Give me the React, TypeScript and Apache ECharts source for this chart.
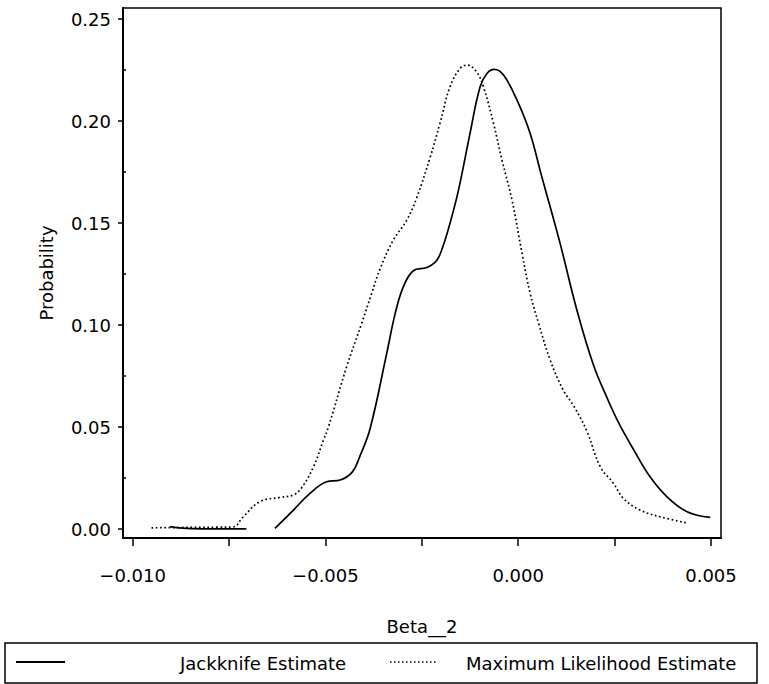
import React, { useEffect, useRef } from "react";
import * as echarts from "echarts";

// Jackknife estimate: left tail segment, then main curve (break between them)
const jackTailX = [-0.00903, -0.0086, -0.008, -0.0075, -0.00705];
const jackTailY = [0.0012, 0.0003, 0.0001, 0.0001, 0.0001];
const jackX = [
  -0.00631, -0.00583, -0.0054, -0.00497, -0.00462, -0.0043, -0.0041, -0.00384,
  -0.00341, -0.00319, -0.00298, -0.00272, -0.00237, -0.00211, -0.00194, -0.00177,
  -0.00155, -0.00125, -0.00099, -0.00081, -0.00062, -0.00038, -0.00003, 0.00031,
  0.0006, 0.00108, 0.00152, 0.00195, 0.0023, 0.00262, 0.003, 0.00342, 0.00386,
  0.00438, 0.00498,
];
const jackY = [
  0.0003, 0.0093, 0.0175, 0.0232, 0.024, 0.028, 0.036, 0.0493,
  0.0861, 0.1057, 0.1187, 0.1266, 0.1282, 0.1318, 0.1392, 0.1498,
  0.166, 0.1939, 0.2167, 0.2233, 0.2253, 0.2225, 0.2102, 0.1939,
  0.1735, 0.1405, 0.1075, 0.0805, 0.0645, 0.0515, 0.0387, 0.0256, 0.0158,
  0.0085, 0.0057,
];

// Maximum likelihood estimate
const mlX = [
  -0.00951, -0.0085, -0.0078, -0.0074, -0.00713, -0.0067, -0.00618, -0.00583,
  -0.00561, -0.00531, -0.00505, -0.00492, -0.00445, -0.00406, -0.0038, -0.00358,
  -0.00324, -0.00289, -0.00263, -0.00228, -0.00203, -0.00177, -0.00151, -0.00132,
  -0.00108, -0.0009, -0.00064, -0.00042, -0.00016, 0.0001, 0.00031, 0.00053,
  0.00083, 0.00117, 0.00145, 0.00178, 0.00213, 0.00247, 0.00273, 0.00316,
  0.00368, 0.00442,
];
const mlY = [
  0.0006, 0.0008, 0.0009, 0.001, 0.006, 0.0134, 0.0155, 0.0167,
  0.0204, 0.0305, 0.0436, 0.0501, 0.0795, 0.1008, 0.1155, 0.1277,
  0.1416, 0.1514, 0.1625, 0.1824, 0.1988, 0.2167, 0.2257, 0.2274,
  0.2241, 0.2167, 0.1988, 0.1808, 0.1612, 0.1351, 0.1155, 0.1008,
  0.0828, 0.0681, 0.06, 0.048, 0.0305, 0.0224, 0.015, 0.0093,
  0.006, 0.0028,
];

const xLabelTicks = [-0.01, -0.005, 0, 0.005];
const xAllTicks = [-0.01, -0.0075, -0.005, -0.0025, 0, 0.0025, 0.005];
const yMajorTicks = [0, 0.05, 0.1, 0.15, 0.2, 0.25];
const yMinorTicks = [0.025, 0.075, 0.125, 0.175, 0.225];

const seriesNames = ["Jackknife Estimate", "Maximum Likelihood Estimate"];
const xTitle = "Beta__2";
const yTitle = "Probability";

const FONT = "DejaVu Sans";

export default function App() {
  const ref = useRef<HTMLDivElement>(null);
  useEffect(() => {
    if (!ref.current) return;
    const chart = echarts.init(ref.current, undefined, { renderer: "svg" });
    const jackData: any[] = jackTailX.map((x, i) => [x, jackTailY[i]]);
    jackData.push([-0.0067, "-"]);
    jackX.forEach((x, i) => jackData.push([x, jackY[i]]));
    const mlData = mlX.map((x, i) => [x, mlY[i]]);
    const xMin = -0.01025;
    const xMax = 0.00526;
    const yMin = -0.0044;
    const yMax = 0.2554;
    const gridPos = { left: 123, right: 48, top: 8, bottom: 146 };
    chart.setOption({
      animation: false,
      backgroundColor: "#fff",
      textStyle: { fontFamily: FONT, color: "#000" },
      grid: [
        {
          ...gridPos,
          show: true,
          borderColor: "#000",
          borderWidth: 1.5,
          backgroundColor: "transparent",
        },
        { ...gridPos, show: false },
      ],
      xAxis: [
        {
          type: "value",
          gridIndex: 0,
          min: xMin,
          max: xMax,
          name: xTitle,
          nameLocation: "middle",
          nameGap: 79,
          nameTextStyle: { fontFamily: FONT, fontSize: 18, color: "#000" },
          axisLine: { show: true, onZero: false, lineStyle: { color: "#000", width: 2 } },
          axisTick: { show: true, customValues: xAllTicks, length: 8, lineStyle: { color: "#000", width: 1.5 } },
          axisLabel: {
            customValues: xLabelTicks,
            margin: 28,
            fontFamily: FONT,
            fontSize: 18,
            color: "#000",
            formatter: (v: number) => (v < 0 ? "\u2212" : "") + Math.abs(v).toFixed(3),
          },
          splitLine: { show: false },
        },
        {
          type: "value",
          gridIndex: 1,
          min: xMin,
          max: xMax,
          show: false,
        },
      ],
      yAxis: [
        {
          type: "value",
          gridIndex: 0,
          min: yMin,
          max: yMax,
          name: yTitle,
          nameLocation: "middle",
          nameGap: 68,
          nameTextStyle: { fontFamily: FONT, fontSize: 18, color: "#000" },
          axisLine: { show: true, onZero: false, lineStyle: { color: "#000", width: 2 } },
          axisTick: { show: true, customValues: yMajorTicks, length: 5, lineStyle: { color: "#000", width: 1.5 } },
          axisLabel: {
            customValues: yMajorTicks,
            margin: 12,
            fontFamily: FONT,
            fontSize: 18,
            color: "#000",
            formatter: (v: number) => v.toFixed(2),
          },
          splitLine: { show: false },
        },
        {
          type: "value",
          gridIndex: 1,
          min: yMin,
          max: yMax,
          position: "left",
          axisLine: { show: false, onZero: false },
          axisTick: { show: true, inside: true, customValues: yMinorTicks, length: 3, lineStyle: { color: "#000", width: 1.5 } },
          axisLabel: { show: false },
          splitLine: { show: false },
        },
      ],
      series: [
        {
          name: seriesNames[0],
          type: "line",
          xAxisIndex: 0,
          yAxisIndex: 0,
          data: jackData,
          showSymbol: false,
          symbol: "none",
          smooth: 0.4,
          connectNulls: false,
          lineStyle: { color: "#000", width: 1.7, type: "solid" },
        },
        {
          name: seriesNames[1],
          type: "line",
          xAxisIndex: 0,
          yAxisIndex: 0,
          data: mlData,
          showSymbol: false,
          symbol: "none",
          smooth: 0.4,
          lineStyle: { color: "#000", width: 1.7, type: [1.7, 2.6] },
        },
      ],
      graphic: [
        {
          type: "rect",
          shape: { x: 5, y: 643, width: 752, height: 40 },
          style: { fill: "none", stroke: "#000", lineWidth: 1.5 },
        },
        {
          type: "line",
          shape: { x1: 16, y1: 662, x2: 65, y2: 662 },
          style: { stroke: "#000", lineWidth: 2 },
        },
        {
          type: "text",
          x: 180,
          y: 663,
          style: { text: seriesNames[0], fontFamily: FONT, fontSize: 18, fill: "#000", verticalAlign: "middle", align: "left" },
        },
        {
          type: "line",
          shape: { x1: 390, y1: 662, x2: 438, y2: 662 },
          style: { stroke: "#000", lineWidth: 1.5, lineDash: [1.5, 2.5] },
        },
        {
          type: "text",
          x: 466,
          y: 663,
          style: { text: seriesNames[1], fontFamily: FONT, fontSize: 18, fill: "#000", verticalAlign: "middle", align: "left" },
        },
      ],
    });
    return () => chart.dispose();
  }, []);
  return (
    <div
      ref={ref}
      style={{ position: "fixed", left: 0, top: 0, width: 769, height: 684, background: "#fff" }}
    />
  );
}
